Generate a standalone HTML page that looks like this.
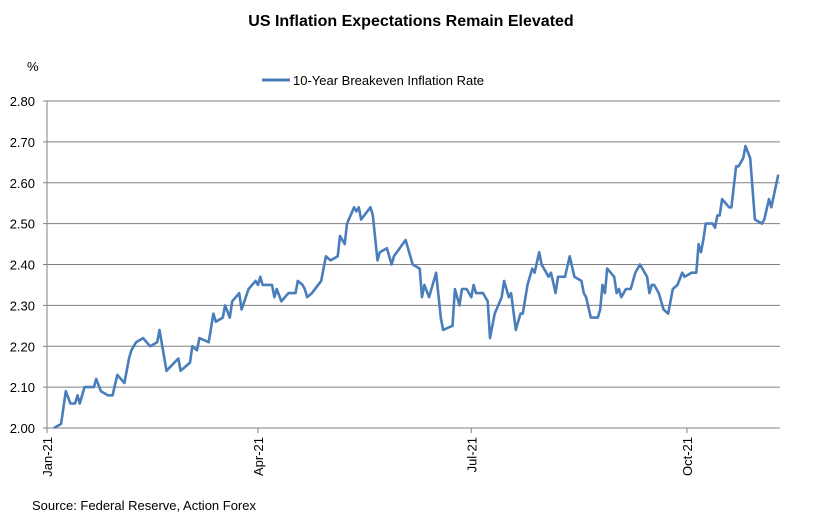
<!DOCTYPE html>
<html><head><meta charset="utf-8"><style>
body{margin:0;background:#fff;}
svg text{font-family:"Liberation Sans",Arial,sans-serif;fill:#000;}
</style></head><body>
<svg id="chart" width="823" height="521" viewBox="0 0 823 521" xmlns="http://www.w3.org/2000/svg">
<text x="411" y="26" text-anchor="middle" font-size="16" font-weight="bold">US Inflation Expectations Remain Elevated</text>
<text x="27" y="71" font-size="13">%</text>
<g>
<line x1="262" y1="80" x2="290" y2="80" stroke="#4a7ebb" stroke-width="3"/>
<text x="293" y="85" font-size="13">10-Year Breakeven Inflation Rate</text>
</g>
<g id="grid"></g><g id="axes"></g><g id="series"></g>
<text x="32" y="510" font-size="13">Source: Federal Reserve, Action Forex</text>
</svg>
<script>
const yTicks=[2.0,2.1,2.2,2.3,2.4,2.5,2.6,2.7,2.8];
const xTickLabels=["Jan-21","Apr-21","Jul-21","Oct-21"];
const xTickDays=[0,90,181,273];
const days=[3,6,8,10,12,13,14,16,20,21,23,26,28,30,33,35,36,38,41,44,47,48,51,56,57,61,62,64,65,69,71,72,75,76,78,79,82,83,86,89,90,91,92,96,97,98,100,103,106,107,109,110,111,113,117,119,121,124,125,127,128,131,132,133,134,138,139,141,142,145,147,148,153,156,159,160,161,163,166,168,169,173,174,176,177,179,181,182,183,186,188,189,191,194,195,197,198,200,202,203,205,207,208,210,211,214,215,217,218,221,223,225,228,229,230,232,235,236,237,238,239,242,243,244,245,247,249,251,253,256,257,258,259,261,263,265,267,269,271,272,275,277,278,279,280,281,284,285,286,287,288,291,292,294,295,297,298,300,302,305,306,308,309,312];
const values=[2.00,2.01,2.09,2.06,2.06,2.08,2.06,2.10,2.10,2.12,2.09,2.08,2.08,2.13,2.11,2.17,2.19,2.21,2.22,2.20,2.21,2.24,2.14,2.17,2.14,2.16,2.20,2.19,2.22,2.21,2.28,2.26,2.27,2.30,2.27,2.31,2.33,2.29,2.34,2.36,2.35,2.37,2.35,2.35,2.32,2.34,2.31,2.33,2.33,2.36,2.35,2.34,2.32,2.33,2.36,2.42,2.41,2.42,2.47,2.45,2.50,2.54,2.53,2.54,2.51,2.54,2.52,2.41,2.43,2.44,2.40,2.42,2.46,2.40,2.39,2.32,2.35,2.32,2.38,2.27,2.24,2.25,2.34,2.30,2.34,2.34,2.32,2.35,2.33,2.33,2.31,2.22,2.28,2.32,2.36,2.32,2.33,2.24,2.28,2.28,2.35,2.39,2.38,2.43,2.40,2.37,2.38,2.33,2.37,2.37,2.42,2.37,2.36,2.33,2.32,2.27,2.27,2.29,2.35,2.33,2.39,2.37,2.33,2.34,2.32,2.34,2.34,2.38,2.40,2.37,2.33,2.35,2.35,2.33,2.29,2.28,2.34,2.35,2.38,2.37,2.38,2.38,2.45,2.43,2.46,2.50,2.50,2.49,2.52,2.52,2.56,2.54,2.54,2.64,2.64,2.66,2.69,2.66,2.51,2.50,2.51,2.56,2.54,2.62];
const NS="http://www.w3.org/2000/svg";
const X0=47,XD=2.344,Y0=428,YT=101;
function xs(d){return X0+XD*d;}
function ys(v){return Y0-(v-2.0)/0.8*(Y0-YT);}
function mk(tag,attrs,parent){const e=document.createElementNS(NS,tag);for(const k in attrs)e.setAttribute(k,attrs[k]);parent.appendChild(e);return e;}
const grid=document.getElementById('grid'),axes=document.getElementById('axes'),series=document.getElementById('series');
yTicks.forEach((t,i)=>{
  const y=ys(t);
  if(i>0){const g=mk('line',{x1:X0,x2:780,y1:y,y2:y,stroke:'#808080','stroke-width':1},grid);
  
  }
  const tk=mk('line',{x1:X0-4,x2:X0,y1:y,y2:y,stroke:'#808080'},axes);
  
  
  const tx=mk('text',{x:X0-12,y:y+5,'text-anchor':'end','font-size':13},axes);
  tx.textContent=t.toFixed(2);
  
  
});
const ya=mk('line',{x1:X0,x2:X0,y1:YT,y2:Y0,stroke:'#808080'},axes);


const xa=mk('line',{x1:X0,x2:780,y1:Y0,y2:Y0,stroke:'#808080'},axes);


xTickDays.forEach((d,i)=>{
  const x=xs(d);
  const tk=mk('line',{x1:x,x2:x,y1:Y0,y2:Y0+5,stroke:'#808080'},axes);
  
  
  const tx=mk('text',{x:0,y:0,'text-anchor':'end','font-size':13,transform:`translate(${x+5},${Y0+9}) rotate(-90)`},axes);
  tx.textContent=xTickLabels[i];
  
  
});
const pts=days.map((d,i)=>xs(d).toFixed(1)+','+ys(values[i]).toFixed(1)).join(' ');
const pl=mk('polyline',{points:pts,fill:'none',stroke:'#4a7ebb','stroke-width':2.6,'stroke-linejoin':'round'},series);


</script>
</body></html>
